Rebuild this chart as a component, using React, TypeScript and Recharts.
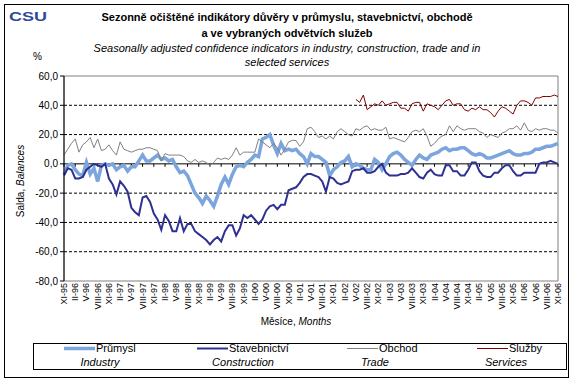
import React from 'react';
import { LineChart, Line, XAxis, YAxis, ReferenceLine, ReferenceArea } from 'recharts';

// months XI-95 .. XI-06 (roman month - two digit year)
const ROMAN = ['I', 'II', 'III', 'IV', 'V', 'VI', 'VII', 'VIII', 'IX', 'X', 'XI', 'XII'];
const months: string[] = [];
for (let k = 10; k <= 142; k++) {
  months.push(`${ROMAN[k % 12]}-${String((95 + Math.floor(k / 12)) % 100).padStart(2, '0')}`);
}

const yTicks = [-80, -60, -40, -20, 0, 20, 40, 60];
const gridValues = [40, 20, -20, -40, -60];

// Průmysl / Industry
const prumysl = [
  -7, -1, 0, -4, -7, -8, 1, -7, -3, -12,
  -1, 0, -1, 0, -4, -2, -1, -5, -2, -2,
  2, 6, 2, 2, 4, 6, 3, 4, 2, 3,
  -2, -6, -5, -8, -14, -20, -23, -27, -22, -25,
  -29, -22, -14, -9, -14, -7, -2, -1, -2, 1,
  3, 6, 5, 17, 18, 20, 13, 7, 14, 9,
  10, 9, 10, 7, 5, 0, 7, 5, 5, 3,
  1, -8, -4, -2, 1, 2, 5, -2, 0, -1,
  -3, -4, -4, 3, 1, -4, 0, 5, 7, 8,
  6, 3, 1, -1, 3, 6, 4, 3, 6, 7,
  8, 10, 11, 9, 10, 10, 11, 11, 9, 7,
  6, 7, 6, 4, 4, 5, 6, 7, 8, 9,
  7, 6, 6, 7, 7, 8, 10, 10, 11, 12,
  12, 13, 14,
];

// Stavebnictví / Construction
const stavebnictvi = [
  -8, -3, -4, -10, -10, -9, -4, -2, 0, -1,
  -2, 0, -10, -14, -21, -12, -15, -19, -30, -33,
  -35, -23, -22, -26, -34, -38, -45, -35, -39, -46,
  -46, -37, -46, -41, -41, -46, -48, -50, -52, -55,
  -52, -50, -53, -46, -42, -42, -49, -44, -35, -37,
  -35, -38, -41, -38, -32, -29, -28, -31, -28, -28,
  -18, -17, -16, -13, -9, -7, -7, -8, -9, -12,
  -19, -9, -10, -13, -14, -13, -12, -5, -4, -4,
  -3, -6, -6, -5, -2, 0, -6, -8, -8, -8,
  -7, -7, -6, -3, -6, -9, -10, -6, -4, -7,
  -8, -8, -1, -1, -5, -5, -8, -8, -4, 1,
  1, -5, -8, -9, -9, -6, -6, -3, -1, -1,
  -5, -8, -8, -6, -6, -6, -6, 0, 1, 1,
  2, 1, 0,
];

// Obchod / Trade
const obchod = [
  6, 10, 14, 17, 8, 13, 15, 18, 11, 17,
  9, 10, 13, 9, 6, 15, 10, 9, 8, 9,
  10, 10, 11, 11, 10, 9, 2, 7, 6, 6,
  6, 6, 5, 2, 1, 3, 1, 2, 1, -1,
  1, 4, 3, 4, 3, 6, 11, 6, 8, 8,
  8, 8, 17, 15, 13, 11, 14, 11, 6, 10,
  15, 16, 16, 12, 15, 24, 25, 22, 18, 19,
  17, 19, 17, 22, 24, 22, 20, 19, 24, 23,
  25, 26, 23, 24, 23, 23, 25, 17, 18, 17,
  16, 15, 18, 22, 23, 22, 24, 19, 12, 14,
  17, 19, 20, 26, 22, 26, 24, 23, 24, 24,
  24, 22, 21, 18, 20, 19, 18, 21, 22, 24,
  24, 26, 23, 28, 23, 22, 24, 23, 24, 24,
  23, 23, 21,
];

// Služby / Services, from V-02
const sluzbyStart = 'V-02';
const sluzbyValues = [
  44, 42, 47, 37, 39, 41, 40, 43, 40, 41,
  42, 42, 38, 38, 36, 41, 42, 42, 36, 41,
  40, 39, 37, 40, 43, 44, 40, 41, 41, 37,
  36, 38, 37, 39, 37, 37, 35, 32, 36, 39,
  38, 36, 34, 40, 43, 43, 42, 40, 45, 45,
  46, 46, 46, 47, 46,
];

const startIdx = months.indexOf(sluzbyStart);
const data = months.map((m, i) => ({
  month: m,
  prumysl: prumysl[i],
  stavebnictvi: stavebnictvi[i],
  obchod: obchod[i],
  sluzby: i >= startIdx ? sluzbyValues[i - startIdx] : null,
}));

const SERIES = [
  { key: 'prumysl', name: 'Průmysl', en: 'Industry', color: '#7BA5DC', width: 3.5 },
  { key: 'stavebnictvi', name: 'Stavebnictví', en: 'Construction', color: '#2E3192', width: 2 },
  { key: 'obchod', name: 'Obchod', en: 'Trade', color: '#808080', width: 1 },
  { key: 'sluzby', name: 'Služby', en: 'Services', color: '#800000', width: 1 },
];

// legend layout: sample start x, english label centre
const LEGEND_X = [64, 197, 347, 477];
const LEGEND_EN_X = [100, 243, 375, 506];

const FONT = '"Liberation Sans", Arial, sans-serif';

const MonthTick = ({ x, y, payload }: any) => (
  <text
    x={x}
    y={y}
    transform={`rotate(-90, ${x}, ${y})`}
    textAnchor="end"
    dominantBaseline="central"
    fontSize={9}
    fontFamily={FONT}
    fill="#000"
  >
    {payload.value}
  </text>
);

const fmt = (v: number) => v.toFixed(1).replace('.', ',');

export default function App() {
  const quarterTicks = months.filter((_, i) => i % 3 === 0);
  return (
    <div style={{ position: 'absolute', left: 0, top: 0, width: 575, height: 383, background: '#fff' }}>
      <LineChart width={575} height={383} data={data} margin={{ top: 76, right: 17, bottom: 72, left: 24 }}>
        <ReferenceArea x1={months[0]} x2={months[months.length - 1]} y1={-80} y2={60} fill="none" stroke="#808080" />
        {gridValues.map(v => (
          <ReferenceLine key={v} y={v} stroke="#000" strokeDasharray="3 2" />
        ))}
        <ReferenceLine y={0} stroke="#000" />
        {quarterTicks.map(m => (
          <ReferenceLine key={m} segment={[{ x: m, y: 0 }, { x: m, y: -2 }]} stroke="#000" />
        ))}
        <XAxis
          dataKey="month"
          interval={2}
          tick={<MonthTick />}
          tickLine={false}
          axisLine={false}
          tickSize={0}
          tickMargin={2}
          height={30}
        />
        <YAxis
          domain={[-80, 60]}
          ticks={yTicks}
          tickFormatter={fmt}
          width={40}
          tickSize={4}
          tickMargin={2}
          axisLine={{ stroke: '#000' }}
          tickLine={{ stroke: '#000' }}
          tick={{ fontSize: 10, fill: '#000', fontFamily: FONT }}
          interval={0}
        />
        {SERIES.map(s => (
          <Line
            key={s.key}
            type="linear"
            dataKey={s.key}
            stroke={s.color}
            strokeWidth={s.width}
            dot={false}
            activeDot={false}
            isAnimationActive={false}
          />
        ))}
      </LineChart>

      <svg width={575} height={383} style={{ position: 'absolute', left: 0, top: 0, pointerEvents: 'none' }} fontFamily={FONT}>
        <rect x={4.5} y={4.5} width={564} height={373} fill="none" stroke="#000" />
        <text x={9} y={21} fontSize={12} fontWeight="bold" fill="#2C4A9A" textLength={38} lengthAdjust="spacingAndGlyphs">CSU</text>
        <text x={287} y={21} fontSize={11} fontWeight="bold" textAnchor="middle">
          Sezonně očištěné indikátory důvěry v průmyslu, stavebnictví, obchodě
        </text>
        <text x={287} y={37} fontSize={11} fontWeight="bold" textAnchor="middle">
          a ve vybraných odvětvích služeb
        </text>
        <text x={287} y={52} fontSize={11} fontStyle="italic" textAnchor="middle">
          Seasonally adjusted confidence indicators in industry, construction, trade and in
        </text>
        <text x={287} y={66} fontSize={11} fontStyle="italic" textAnchor="middle">
          selected services
        </text>
        <text x={33} y={60} fontSize={10}>%</text>
        <text transform="rotate(-90, 24, 181)" x={24} y={181} fontSize={10} textAnchor="middle">
          Salda, <tspan fontStyle="italic">Balances</tspan>
        </text>
        <text x={296} y={325} fontSize={10} textAnchor="middle">
          Měsíce, <tspan fontStyle="italic">Months</tspan>
        </text>

        <rect x={33.5} y={343.5} width={533} height={26} fill="none" stroke="#000" />
        {SERIES.map((s, i) => (
          <g key={s.key}>
            <line x1={LEGEND_X[i]} x2={LEGEND_X[i] + 31} y1={348.5} y2={348.5} stroke={s.color} strokeWidth={s.width} />
            <text x={LEGEND_X[i] + 32} y={352} fontSize={11}>{s.name}</text>
            <text x={LEGEND_EN_X[i]} y={366} fontSize={11} fontStyle="italic" textAnchor="middle">{s.en}</text>
          </g>
        ))}
      </svg>
    </div>
  );
}
